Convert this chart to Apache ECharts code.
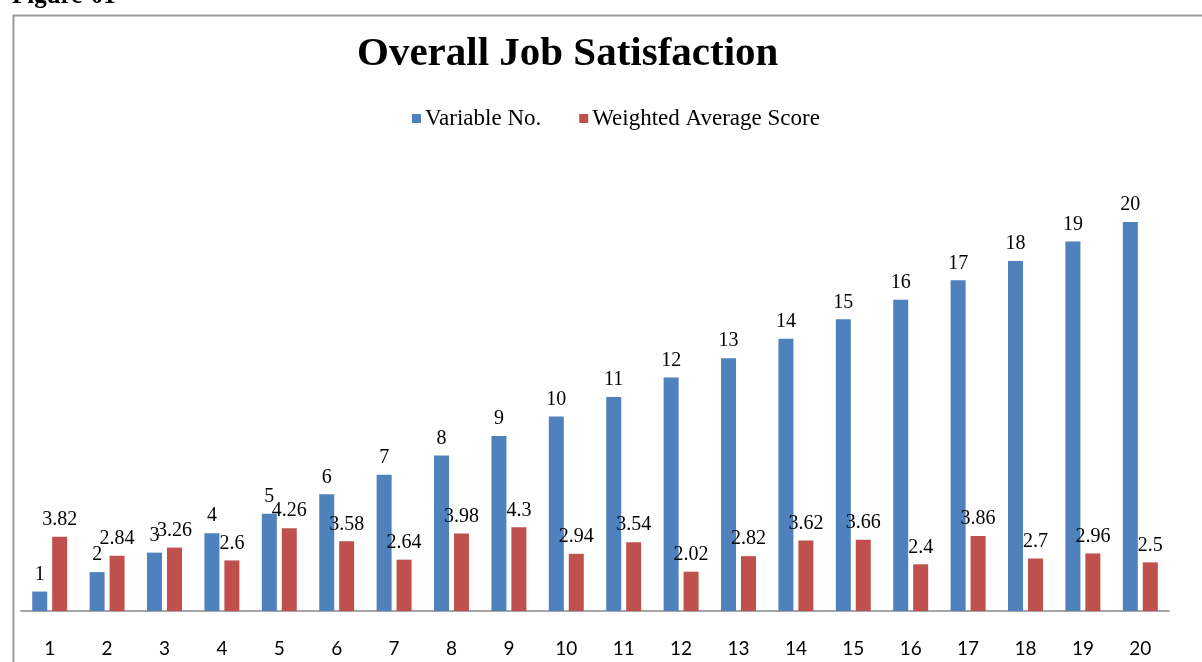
<!DOCTYPE html>
<html>
<head>
<meta charset="utf-8">
<script src="https://cdn.jsdelivr.net/npm/echarts@6/dist/echarts.min.js"></script>
<style>
html,body{margin:0;padding:0;background:#fff;}
#chart{width:1202px;height:662px;}
</style>
</head>
<body>
<div id="chart"></div>
<script>
const categories = ['1','2','3','4','5','6','7','8','9','10','11','12','13','14','15','16','17','18','19','20'];
const variableNo = [1,2,3,4,5,6,7,8,9,10,11,12,13,14,15,16,17,18,19,20];
const weightedScore = [3.82,2.84,3.26,2.6,4.26,3.58,2.64,3.98,4.3,2.94,3.54,2.02,2.82,3.62,3.66,2.4,3.86,2.7,2.96,2.5];
const seriesNames = ['Variable No.', 'Weighted Average Score'];

const chart = echarts.init(document.getElementById('chart'), null, {renderer: 'canvas'});
const serif = '"Liberation Serif", "DejaVu Serif", serif';
chart.setOption({
  animation: false,
  backgroundColor: '#fff',
  graphic: [
    {type: 'rect', left: 11, top: 13, shape: {x: 0, y: 0, width: 1220, height: 700},
     style: {fill: 'none', stroke: '#9a9a9a', lineWidth: 2}, silent: true},
    {type: 'text', x: 12, y: 9, style: {text: 'Figure-01', font: 'bold 25px ' + serif, fill: '#000', verticalAlign: 'bottom', align: 'left'}}
  ],
  title: {
    text: 'Overall Job Satisfaction',
    left: 352, top: 29,
    textStyle: {fontFamily: serif, fontWeight: 'bold', fontSize: 41, color: '#000'}
  },
  legend: {
    top: 102, left: 407,
    itemWidth: 9, itemHeight: 9, itemGap: 38,
    icon: 'rect',
    textStyle: {fontFamily: serif, fontSize: 23, color: '#000', padding: [0,0,0,-1]},
    data: seriesNames
  },
  grid: {left: 21, right: 33, top: 222, bottom: 51},
  xAxis: {
    type: 'category', data: categories,
    axisLine: {lineStyle: {color: '#a6a6a6', width: 2}},
    axisTick: {show: false},
    axisLabel: {fontFamily: 'Lato, "Open Sans", sans-serif', fontSize: 19, color: '#000', margin: 28}
  },
  yAxis: {type: 'value', min: 0, max: 20, show: false, splitLine: {show: false}},
  series: [
    {name: seriesNames[0], type: 'bar', data: variableNo, barWidth: 15, barGap: '33%',
     itemStyle: {color: '#4F81BD'},
     label: {show: true, position: 'top', distance: 7, fontFamily: serif, fontSize: 20, color: '#000'}},
    {name: seriesNames[1], type: 'bar', data: weightedScore, barWidth: 15,
     itemStyle: {color: '#C0504D'},
     label: {show: true, position: 'top', distance: 7, fontFamily: serif, fontSize: 20, color: '#000'}}
  ]
});
</script>
</body>
</html>
